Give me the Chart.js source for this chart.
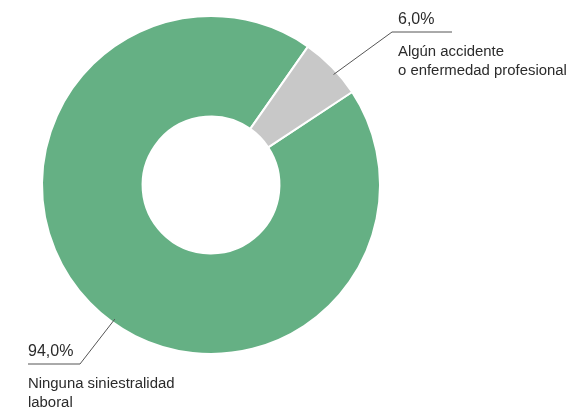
<!DOCTYPE html>
<html>
<head>
<meta charset="utf-8">
<style>
  html, body { margin: 0; padding: 0; background: #fff; }
  #wrap { width: 583px; height: 407px; position: relative; }
</style>
<script src="https://cdn.jsdelivr.net/npm/chart.js@4.4.0/dist/chart.umd.min.js"></script>
</head>
<body>
<div id="wrap"><canvas id="chart"></canvas></div>
<script>
  const categories = ["Ninguna siniestralidad laboral", "Algún accidente o enfermedad profesional"];
  const labelLines = [["Ninguna siniestralidad", "laboral"], ["Algún accidente", "o enfermedad profesional"]];
  const values = [94.0, 6.0];
  const colors = ["#65b084", "#c8c8c8"];

  // where each leader line starts (fraction along the slice) and where its elbow sits
  const leaders = [
    { frac: 0.47, elbow: [80, 364], end: 28, side: "left" },
    { frac: 0.6, elbow: [392, 32], end: 452, side: "right" }
  ];

  const fmt = v => v.toFixed(1).replace(".", ",") + "%";

  const leaderPlugin = {
    id: "leaders",
    afterDraw(chart) {
      const ctx = chart.ctx;
      const arcs = chart.getDatasetMeta(0).data;
      ctx.save();
      arcs.forEach((arc, i) => {
        const L = leaders[i];
        const a = arc.startAngle + (arc.endAngle - arc.startAngle) * L.frac;
        const r = arc.outerRadius - 4;
        const sx = arc.x + Math.cos(a) * r;
        const sy = arc.y + Math.sin(a) * r;
        const [ex, ey] = L.elbow;
        ctx.strokeStyle = "#555";
        ctx.lineWidth = 1;
        ctx.beginPath();
        ctx.moveTo(sx, sy);
        ctx.lineTo(ex, ey);
        ctx.lineTo(L.end, ey);
        ctx.stroke();

        const tx = L.side === "left" ? L.end : ex + 6;
        ctx.fillStyle = "#2b2b2b";
        ctx.textAlign = "left";
        ctx.textBaseline = "alphabetic";
        ctx.font = "16px 'Liberation Sans', Arial, sans-serif";
        ctx.fillText(fmt(values[i]), tx, ey - 8);
        ctx.font = "14.9px 'Liberation Sans', Arial, sans-serif";
        labelLines[i].forEach((t, k) => ctx.fillText(t, tx, ey + 24 + k * 18.5));
      });
      ctx.restore();
    }
  };

  new Chart(document.getElementById("chart"), {
    type: "doughnut",
    data: {
      labels: categories,
      datasets: [{
        data: values,
        backgroundColor: colors,
        borderColor: "#fff",
        borderWidth: 2,
        hoverOffset: 0
      }]
    },
    options: {
      responsive: true,
      maintainAspectRatio: false,
      animation: false,
      cutout: "40.5%",
      rotation: 56.6,
      layout: { padding: { left: 41, right: 202, top: 15, bottom: 52 } },
      plugins: {
        legend: { display: false },
        tooltip: { enabled: false }
      }
    },
    plugins: [leaderPlugin]
  });
</script>
</body>
</html>
